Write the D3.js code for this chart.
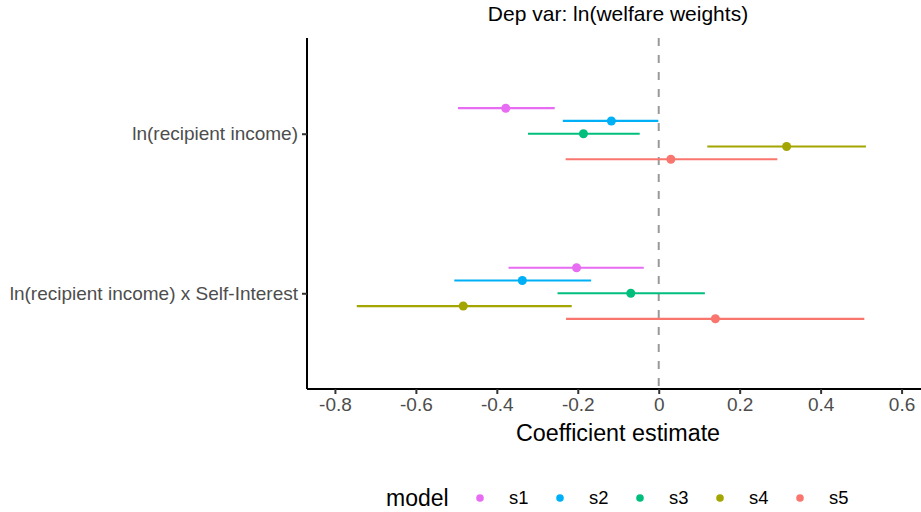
<!DOCTYPE html>
<html>
<head>
<meta charset="utf-8">
<script src="https://cdn.jsdelivr.net/npm/d3@7"></script>
<style>
  html, body { margin: 0; padding: 0; background: #fff; }
  svg { display: block; font-family: "Liberation Sans", Arial, sans-serif; }
</style>
</head>
<body>
<svg id="chart" width="921" height="512"></svg>
<script>
// Coefficient terms (top to bottom) and model specifications
const terms = ["ln(recipient income)", "ln(recipient income) x Self-Interest"];
const models = ["s1", "s2", "s3", "s4", "s5"];
const modelColors = ["#E76BF3", "#00B0F6", "#00BF7D", "#A3A500", "#F8766D"];

// Point estimates and confidence bounds per model, in term order
const estimate = {
  s1: [-0.378, -0.203],
  s2: [-0.117, -0.337],
  s3: [-0.186, -0.069],
  s4: [0.316, -0.483],
  s5: [0.030, 0.140]
};
const lower = {
  s1: [-0.496, -0.371],
  s2: [-0.237, -0.505],
  s3: [-0.323, -0.250],
  s4: [0.120, -0.746],
  s5: [-0.230, -0.229]
};
const upper = {
  s1: [-0.257, -0.037],
  s2: [-0.001, -0.167],
  s3: [-0.047, 0.114],
  s4: [0.512, -0.215],
  s5: [0.293, 0.508]
};

const xTicks = [-0.8, -0.6, -0.4, -0.2, 0, 0.2, 0.4, 0.6];
const xDomain = [-0.869, 0.648];

// Flatten into one row per (term, model)
const rows = [];
terms.forEach((t, i) => {
  models.forEach(m => {
    rows.push({ term: t, model: m, est: estimate[m][i], lo: lower[m][i], hi: upper[m][i] });
  });
});

const svg = d3.select("#chart");
const panel = { left: 307, right: 921, top: 38, bottom: 389 };

const x = d3.scaleLinear().domain(xDomain).range([panel.left, panel.right]);

// Discrete y axis with ggplot-style expansion (0.6 units each side)
const yIdx = d3.scaleLinear()
  .domain([-0.6, terms.length - 1 + 0.6])
  .range([panel.top, panel.bottom]);
const dodgeWidth = 0.4;
const dodge = d3.scaleBand().domain(models).range([-dodgeWidth / 2, dodgeWidth / 2]);
const yPos = d => yIdx(terms.indexOf(d.term) + dodge(d.model) + dodge.bandwidth() / 2);

const color = d3.scaleOrdinal().domain(models).range(modelColors);

// Reference line at zero
svg.append("line")
  .attr("x1", x(0)).attr("x2", x(0))
  .attr("y1", panel.top).attr("y2", panel.bottom)
  .attr("stroke", "#999999")
  .attr("stroke-width", 2)
  .attr("stroke-dasharray", "8,9");

// Confidence intervals
svg.append("g").selectAll("line")
  .data(rows)
  .join("line")
  .attr("x1", d => x(d.lo))
  .attr("x2", d => x(d.hi))
  .attr("y1", yPos)
  .attr("y2", yPos)
  .attr("stroke", d => color(d.model))
  .attr("stroke-width", 2.2);

// Point estimates
svg.append("g").selectAll("circle")
  .data(rows)
  .join("circle")
  .attr("cx", d => x(d.est))
  .attr("cy", yPos)
  .attr("r", 4.5)
  .attr("fill", d => color(d.model));

const tickFont = "19px";

// X axis
const xAxis = svg.append("g")
  .attr("transform", `translate(0,${panel.bottom})`)
  .call(d3.axisBottom(x).tickValues(xTicks).tickSize(5).tickPadding(4)
    .tickFormat(d => d === 0 ? "0" : d3.format(".1f")(d).replace("\u2212", "-")));
xAxis.select(".domain").attr("stroke", "#000").attr("stroke-width", 2).attr("d", `M${panel.left},0H${panel.right}`);
xAxis.selectAll(".tick line").attr("stroke", "#333").attr("stroke-width", 2);
xAxis.selectAll(".tick text").attr("fill", "#4d4d4d").attr("font-size", tickFont)
  .attr("font-family", "Liberation Sans, Arial, sans-serif");

// Y axis
const yAxisScale = d3.scalePoint().domain(terms).range([yIdx(0), yIdx(terms.length - 1)]);
const yAxis = svg.append("g")
  .attr("transform", `translate(${panel.left},0)`)
  .call(d3.axisLeft(yAxisScale).tickSize(5).tickPadding(4));
yAxis.select(".domain").attr("stroke", "#000").attr("stroke-width", 2).attr("d", `M0,${panel.top}V${panel.bottom}`);
yAxis.selectAll(".tick line").attr("stroke", "#333").attr("stroke-width", 2);
yAxis.selectAll(".tick text").attr("fill", "#4d4d4d").attr("font-size", tickFont)
  .attr("font-family", "Liberation Sans, Arial, sans-serif");

// Titles
svg.append("text")
  .attr("x", 618).attr("y", 21)
  .attr("text-anchor", "middle")
  .attr("font-size", "21px")
  .attr("fill", "#000")
  .text("Dep var: ln(welfare weights)");

svg.append("text")
  .attr("x", 618).attr("y", 441)
  .attr("text-anchor", "middle")
  .attr("font-size", "23.3px")
  .attr("fill", "#000")
  .text("Coefficient estimate");

// Legend
const legend = svg.append("g");
legend.append("text")
  .attr("x", 386).attr("y", 506)
  .attr("font-size", "23px")
  .attr("fill", "#000")
  .text("model");
const keyX = d3.scalePoint().domain(models).range([480, 800]);
const keys = legend.selectAll("g.key")
  .data(models)
  .join("g")
  .attr("class", "key")
  .attr("transform", m => `translate(${keyX(m)},498)`);
keys.append("circle").attr("r", 3.8).attr("fill", m => color(m));
keys.append("text")
  .attr("x", 29).attr("y", 0).attr("dy", "0.35em")
  .attr("font-size", "18.4px")
  .attr("fill", "#000")
  .text(m => m);
</script>
</body>
</html>
